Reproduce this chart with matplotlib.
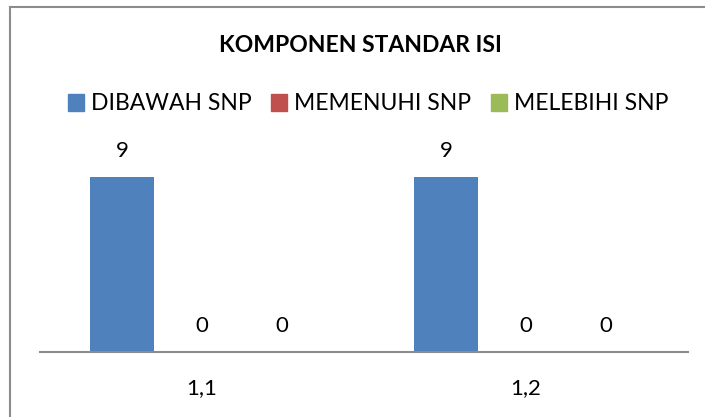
import numpy as np
import matplotlib
matplotlib.use("Agg")
import matplotlib.pyplot as plt
from matplotlib.patches import Rectangle

plt.rcParams['font.family'] = ['Lato', 'DejaVu Sans']

# data
categories = ["1,1", "1,2"]
series_names = ["DIBAWAH SNP", "MEMENUHI SNP", "MELEBIHI SNP"]
dibawah = [9, 9]
memenuhi = [0, 0]
melebihi = [0, 0]
colors = ["#4F81BD", "#C0504D", "#9BBB59"]

values = [dibawah, memenuhi, melebihi]

fig = plt.figure(figsize=(7.05, 4.17), dpi=100)
W, H = 705, 417

# chart border (left + top visible)
fig.add_artist(plt.Line2D([10 / W, 10 / W], [0, 1 - 7 / H], color="#8c8c8c", lw=1.5))
fig.add_artist(plt.Line2D([10 / W, 1], [1 - 7 / H, 1 - 7 / H], color="#8c8c8c", lw=1.5))

ax = fig.add_axes([40 / W, 65 / H, 648 / W, 194 / H])
x = np.arange(len(categories))
step = 0.247
width = 0.198
for i, (name, vals, c) in enumerate(zip(series_names, values, colors)):
    pos = x + (i - 1) * step
    ax.bar(pos, vals, width=width, color=c, label=name)
    for p, v in zip(pos, vals):
        ax.text(p, v + 1.35, str(v), ha="center", va="center", fontsize=16, color="black")

ax.set_xlim(-0.5, 1.5)
ax.set_ylim(0, 10)
ax.set_yticks([])
ax.set_xticks(x)
ax.set_xticklabels(categories, fontsize=16)
ax.tick_params(axis="x", length=0, pad=19)
for s in ["top", "right", "left"]:
    ax.spines[s].set_visible(False)
ax.spines["bottom"].set_color("#8c8c8c")
ax.spines["bottom"].set_linewidth(1.5)

fig.text(360 / W, 1 - 45 / H, "KOMPONEN STANDAR ISI", ha="center", va="center",
         fontsize=16.5, fontweight="bold")

handles = [Rectangle((0, 0), 1, 1, color=c) for c in colors]
fig.legend(handles, series_names, loc="center", bbox_to_anchor=(368 / W, 1 - 104 / H),
           ncol=3, frameon=False, fontsize=16.5, handlelength=0.7, handleheight=0.7,
           handletextpad=0.3, columnspacing=0.85)

fig.savefig("out.png", dpi=100)
